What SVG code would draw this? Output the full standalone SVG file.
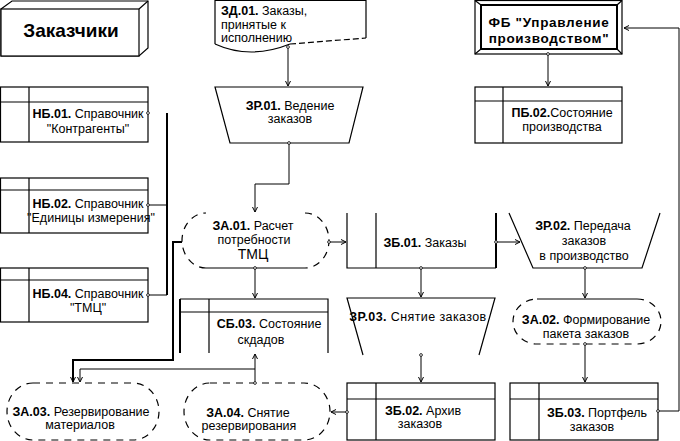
<svg xmlns="http://www.w3.org/2000/svg" width="680" height="441" viewBox="0 0 680 441">
<defs>
<marker id="ar" markerWidth="7" markerHeight="7" refX="5" refY="3" orient="auto" markerUnits="userSpaceOnUse"><path d="M0,0.5 L5,3 L0,5.5" fill="none" stroke="#000" stroke-width="1"/></marker>
<marker id="dot" markerWidth="5" markerHeight="5" refX="2.5" refY="2.5" markerUnits="userSpaceOnUse"><circle cx="2.5" cy="2.5" r="1.4" fill="#fff" stroke="#000" stroke-width="0.8"/></marker>
</defs>
<style>
.s{fill:#fff;stroke:#000;stroke-width:1.2}
.n{fill:none;stroke:#000;stroke-width:1.2}
.d{stroke-dasharray:7,6}
.t{font-family:"Liberation Sans",Arial,sans-serif;font-size:12.5px;fill:#000;text-anchor:middle}
.b{font-weight:bold}
.c{fill:none;stroke:#000;stroke-width:1}
.w{stroke-width:2}
</style>
<rect width="680" height="441" fill="#fff"/>

<g id="customers">
<polygon class="s" points="1,9 12,1 148,1 148,48 139,56 1,56"/>
<rect class="s" x="1" y="9" width="138" height="47"/>
<line class="n" x1="139" y1="9" x2="148" y2="1"/>
<text class="t b" x="71" y="37" style="font-size:19px">Заказчики</text>
</g>

<g id="zd01">
<path fill="#fff" d="M215,0 H366 V38 L290,44 Q250,60 215,44 Z"/>
<path class="n" d="M215,44 V0.5 H366 V38"/>
<path class="n" d="M215,44 Q250,60 290,44"/>
<path class="n" d="M290,44 L366,38" style="stroke-dasharray:6,3"/>
<text class="t" x="221" y="15" style="text-anchor:start"><tspan class="b">ЗД.01.</tspan> Заказы,</text>
<text class="t" x="221" y="29" style="text-anchor:start">принятые к</text>
<text class="t" x="221" y="42" style="text-anchor:start">исполнению</text>
</g>

<g id="zr01">
<polygon class="s" points="215,87 363,87 349,143 230,143"/>
<text class="t" x="290" y="110"><tspan class="b">ЗР.01.</tspan> Ведение</text>
<text class="t" x="290" y="123">заказов</text>
</g>

<g id="fb">
<rect class="s" x="475" y="0.5" width="147" height="53.5"/>
<rect class="s" x="481" y="5" width="136" height="44" style="stroke-width:2"/>
<path class="n" d="M475,0.5 L481,5 M622,0.5 L617,5 M475,54 L481,49 M622,54 L617,49"/>
<text class="t b" x="549" y="27" style="font-size:13.5px;letter-spacing:0.7px">ФБ "Управление</text>
<text class="t b" x="549" y="43" style="font-size:13.5px;letter-spacing:0.7px">производством"</text>
</g>

<g id="pb02">
<rect class="s" x="475" y="87" width="147" height="56"/>
<path class="n" d="M475,101 H622 M503,87 V143"/>
<text class="t" x="562" y="117"><tspan class="b">ПБ.02.</tspan>Состояние</text>
<text class="t" x="562" y="131">производства</text>
</g>

<g id="nb01">
<rect class="s" x="0.5" y="87" width="147.5" height="55"/>
<path class="n" d="M0.5,102 H148 M29,87 V142"/>
<text class="t" x="88" y="118"><tspan class="b">НБ.01.</tspan> Справочник</text>
<text class="t" x="88" y="133">"Контрагенты"</text>
</g>

<g id="nb02">
<rect class="s" x="0.5" y="178" width="147.5" height="55"/>
<path class="n" d="M0.5,190 H148 M29,178 V233"/>
<text class="t" x="88" y="208"><tspan class="b">НБ.02.</tspan> Справочник</text>
<text class="t" x="91" y="222">"Единицы измерения"</text>
</g>

<g id="nb04">
<rect class="s" x="0.5" y="268" width="147.5" height="54"/>
<path class="n" d="M0.5,280 H148 M29,268 V322"/>
<text class="t" x="88" y="298"><tspan class="b">НБ.04.</tspan> Справочник</text>
<text class="t" x="88" y="312">"ТМЦ"</text>
</g>

<g id="za01">
<path fill="#fff" d="M206,213 H305 A24,27.5 0 0 1 305,268 H206 A24,27.5 0 0 1 206,213 Z"/>
<path class="n d" d="M206,268 A24,27.5 0 0 1 206,213"/>
<path class="n d" d="M305,213 A24,27.5 0 0 1 305,268"/>
<path class="n" d="M206,268 H305"/>
<text class="t" x="253" y="230"><tspan class="b">ЗА.01.</tspan> Расчет</text>
<text class="t" x="254" y="244">потребности</text>
<text class="t" x="253" y="259" style="font-size:14px">ТМЦ</text>
</g>

<g id="zb01">
<rect x="347" y="213" width="149" height="55" fill="#fff"/>
<path class="n" d="M347,213 V268 H496 M376,213 V268"/>
<path class="n" d="M496,268 V213" style="stroke-width:2"/>
<text class="t" x="425" y="247"><tspan class="b">ЗБ.01.</tspan> Заказы</text>
</g>

<g id="zr02">
<path fill="#fff" d="M509,213 L533,268 H642 L660,213 Z"/>
<path class="n" d="M509,213 L533,268 H642 L660,213"/>
<text class="t" x="583" y="230"><tspan class="b">ЗР.02.</tspan> Передача</text>
<text class="t" x="584" y="245">заказов</text>
<text class="t" x="584" y="260">в производство</text>
</g>

<g id="sb03">
<rect x="180" y="299" width="148" height="54" fill="#fff"/>
<path class="n" d="M328,353 V299 H180 M180,312 H328 M209,299 V353"/>
<path class="n" d="M180,299 V353" style="stroke-width:2"/>
<text class="t" x="269" y="328"><tspan class="b">СБ.03.</tspan> Состояние</text>
<text class="t" x="261" y="344">скдадов</text>
</g>

<g id="zr03">
<path fill="#fff" d="M347,298 H495 L479,355 H363 Z"/>
<path class="n" d="M363,355 L347,298 H495 L479,355"/>
<text class="t" x="418" y="321" style="letter-spacing:0.4px"><tspan class="b">ЗР.03.</tspan> Снятие заказов</text>
</g>

<g id="za02">
<path fill="#fff" d="M537,299 H637 A24,22.5 0 0 1 637,344 H537 A24,22.5 0 0 1 537,299 Z"/>
<path class="n d" d="M637,299 A24,22.5 0 0 1 637,344 H537 A24,22.5 0 0 1 537,299"/>
<path class="n" d="M537,299 H637"/>
<text class="t" x="586" y="324"><tspan class="b">ЗА.02.</tspan> Формирование</text>
<text class="t" x="586" y="338">пакета заказов</text>
</g>

<g id="za03">
<path class="s d" d="M33,383 H133 A26,28.5 0 0 1 133,440 H33 A26,28.5 0 0 1 33,383 Z"/>
<text class="t" x="81" y="416"><tspan class="b">ЗА.03.</tspan> Резервирование</text>
<text class="t" x="80" y="429">материалов</text>
</g>

<g id="za04">
<path class="s d" d="M210,383 H304 A26,28.5 0 0 1 304,440 H210 A26,28.5 0 0 1 210,383 Z"/>
<text class="t" x="248" y="417"><tspan class="b">ЗА.04.</tspan> Снятие</text>
<text class="t" x="249" y="430">резервирования</text>
</g>

<g id="zb02">
<rect class="s" x="347" y="383" width="148" height="57"/>
<path class="n" d="M347,399 H495 M376,383 V440"/>
<text class="t" x="423" y="415"><tspan class="b">ЗБ.02.</tspan> Архив</text>
<text class="t" x="420" y="428">заказов</text>
</g>

<g id="zb03">
<rect class="s" x="510" y="383" width="148" height="57"/>
<path class="n" d="M510,399 H658 M539,383 V440"/>
<text class="t" x="597" y="417"><tspan class="b">ЗБ.03.</tspan> Портфель</text>
<text class="t" x="592" y="431">заказов</text>
</g>

<g id="connectors">
<path class="c" d="M288,47 V86" marker-start="url(#dot)" marker-end="url(#ar)"/>
<path class="c" d="M289,143 V184 H255 V212" marker-start="url(#dot)" marker-end="url(#ar)"/>
<path class="c" d="M548,54 V86" marker-start="url(#dot)" marker-end="url(#ar)"/>
<path class="c" d="M329,242 H346" marker-start="url(#dot)" marker-end="url(#ar)"/>
<path class="c" d="M496,242 H520" marker-start="url(#dot)" marker-end="url(#ar)"/>
<path class="c" d="M421,268 V297" marker-start="url(#dot)" marker-end="url(#ar)"/>
<path class="c" d="M421,355 V382" marker-start="url(#dot)" marker-end="url(#ar)"/>
<path class="c" d="M585,268 V298" marker-start="url(#dot)" marker-end="url(#ar)"/>
<path class="c" d="M585,344 V382" marker-start="url(#dot)" marker-end="url(#ar)"/>
<path class="c" d="M658,411 H679 V28 H624" marker-start="url(#dot)" marker-end="url(#ar)"/>
<path class="c" d="M347,412 H331" marker-start="url(#dot)" marker-end="url(#ar)"/>
<path class="c" d="M255,268 V298" marker-start="url(#dot)" marker-end="url(#ar)"/>
<path class="c w" d="M182,242 H173 V360 H73 V382" marker-end="url(#ar)"/>
<path class="c" d="M255,383 V354" marker-start="url(#dot)" marker-end="url(#ar)"/>
<path class="c" d="M255,369 H80 V382" marker-end="url(#ar)"/>
<path class="c w" d="M167,113 V295"/>
<path class="c" d="M148,205 H167 M148,295 H167"/>
<circle cx="148" cy="113" r="1.4" fill="#fff" stroke="#000" stroke-width="0.8"/>
<circle cx="148" cy="205" r="1.4" fill="#fff" stroke="#000" stroke-width="0.8"/>
<circle cx="148" cy="295" r="1.4" fill="#fff" stroke="#000" stroke-width="0.8"/>
</g>
</svg>
